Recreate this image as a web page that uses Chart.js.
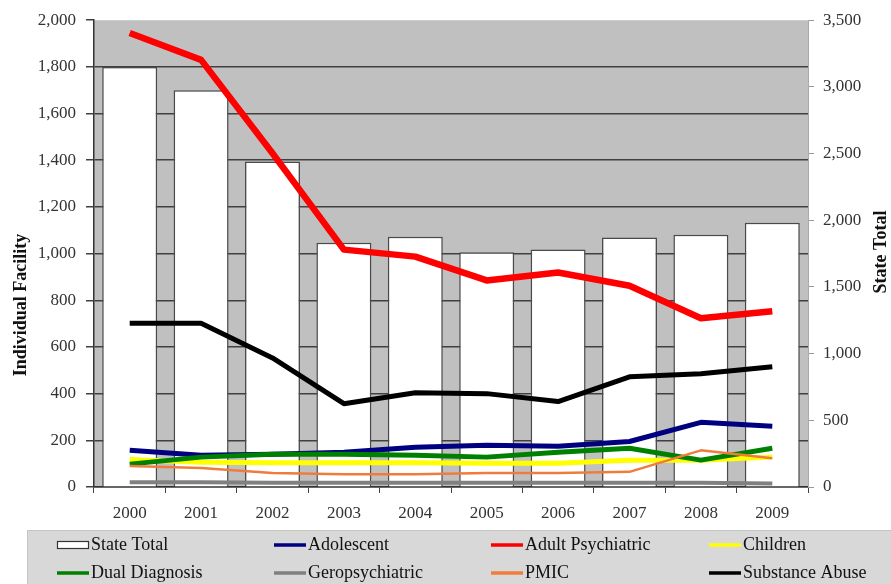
<!DOCTYPE html>
<html>
<head>
<meta charset="utf-8">
<script src="https://cdn.jsdelivr.net/npm/chart.js@4/dist/chart.umd.min.js"></script>
<style>
  html, body { margin: 0; padding: 0; background: #ffffff; }
  #wrap { width: 891px; height: 584px; }
</style>
</head>
<body>
<div id="wrap"><canvas id="c" width="891" height="584"></canvas></div>
<script>
// Admissions by facility type, 2000-2009
const years = ['2000', '2001', '2002', '2003', '2004', '2005', '2006', '2007', '2008', '2009'];

const stateTotal        = [3150, 2975, 2440, 1832, 1877, 1760, 1780, 1870, 1891, 1981];
const adolescent        = [157, 136, 140, 149, 170, 179, 175, 195, 277, 260];
const adultPsychiatric  = [1945, 1830, 1430, 1017, 987, 885, 919, 862, 723, 753];
const children          = [118, 106, 104, 104, 104, 102, 102, 115, 115, 128];
const dualDiagnosis     = [98, 128, 140, 140, 136, 128, 149, 166, 115, 166];
const geropsychiatric   = [20, 20, 18, 18, 18, 18, 18, 18, 18, 15];
const pmic              = [90, 81, 60, 55, 55, 60, 60, 65, 157, 123];
const substanceAbuse    = [702, 702, 553, 357, 404, 400, 366, 472, 485, 515];

const leftTicks  = { min: 0, max: 2000, step: 200 };
const rightTicks = { min: 0, max: 3500, step: 500 };

const SERIF = '"Liberation Serif", "DejaVu Serif", serif';
const fmt = v => Number(v).toLocaleString('en-US');

function lineSet(label, data, color, width, order) {
  return {
    type: 'line', label, data, yAxisID: 'y',
    borderColor: color, backgroundColor: color, borderWidth: width,
    pointRadius: 0, tension: 0, borderJoinStyle: 'round', borderCapStyle: 'butt',
    fill: false, order
  };
}

// Plot background, legend panel and rotated axis titles
const decor = {
  id: 'decor',
  beforeDraw(chart) {
    const { ctx, chartArea: a } = chart;
    ctx.save();
    ctx.fillStyle = '#ffffff';
    ctx.fillRect(0, 0, chart.width, chart.height);
    ctx.fillStyle = '#c0c0c0';
    ctx.fillRect(a.left, a.top, a.right - a.left, a.bottom - a.top);
    ctx.restore();
  },
  afterDraw(chart) {
    const { ctx } = chart;
    ctx.save();
    // axis titles
    ctx.fillStyle = '#111';
    ctx.font = 'bold 18px ' + SERIF;
    ctx.textAlign = 'center';
    ctx.textBaseline = 'middle';
    ctx.translate(21, 305);
    ctx.rotate(-Math.PI / 2);
    ctx.fillText('Individual Facility', 0, 0);
    ctx.setTransform(1, 0, 0, 1, 0, 0);
    ctx.translate(881, 252);
    ctx.rotate(-Math.PI / 2);
    ctx.fillText('State Total', 0, 0);
    ctx.setTransform(1, 0, 0, 1, 0, 0);

    // legend panel
    ctx.fillStyle = '#d8d8d8';
    ctx.fillRect(27, 530, chart.width - 27, chart.height - 530);
    ctx.strokeStyle = '#c4c4c4';
    ctx.lineWidth = 1;
    ctx.strokeRect(27.5, 530.5, chart.width - 27, chart.height - 530);

    const cols = [57, 274, 491, 709];
    const rows = [545, 573];
    ctx.font = '18px ' + SERIF;
    ctx.textAlign = 'left';
    ctx.textBaseline = 'middle';
    chart.data.datasets.forEach((ds, i) => {
      const x = cols[i % 4];
      const y = rows[Math.floor(i / 4)];
      if (ds.type === 'bar') {
        ctx.fillStyle = '#ffffff';
        ctx.fillRect(x, y - 4, 32, 8);
        ctx.strokeStyle = '#333';
        ctx.lineWidth = 1.2;
        ctx.strokeRect(x + 0.5, y - 3.5, 31, 7);
      } else {
        ctx.strokeStyle = ds.borderColor;
        ctx.lineWidth = 3.5;
        ctx.beginPath();
        ctx.moveTo(x, y);
        ctx.lineTo(x + 32, y);
        ctx.stroke();
      }
      ctx.fillStyle = '#111';
      ctx.fillText(ds.label, x + 34, y);
    });
    ctx.restore();
  }
};

new Chart(document.getElementById('c'), {
  data: {
    labels: years,
    datasets: [
      {
        type: 'bar', label: 'State Total', data: stateTotal, yAxisID: 'y2',
        backgroundColor: '#ffffff', borderColor: '#4a4a4a', borderWidth: 1.5,
        categoryPercentage: 1, barPercentage: 0.77, order: 20
      },
      lineSet('Adolescent', adolescent, '#000080', 5, 7),
      lineSet('Adult Psychiatric', adultPsychiatric, '#ff0000', 6.5, 6),
      lineSet('Children', children, '#ffff00', 5, 5),
      lineSet('Dual Diagnosis', dualDiagnosis, '#008000', 5, 4),
      lineSet('Geropsychiatric', geropsychiatric, '#808080', 4, 3),
      lineSet('PMIC', pmic, '#f07c3c', 2.5, 2),
      lineSet('Substance Abuse', substanceAbuse, '#000000', 5, 1)
    ]
  },
  options: {
    responsive: false,
    animation: false,
    layout: { padding: { top: 17, left: 0, right: 0, bottom: 0 } },
    plugins: { legend: { display: false }, tooltip: { enabled: false }, title: { display: false } },
    scales: {
      x: {
        type: 'category', offset: true,
        afterFit(s) { s.height = 97; },
        grid: { offset: true, drawOnChartArea: false, drawTicks: true, tickLength: 6, color: '#444', lineWidth: 1 },
        border: { color: '#333', width: 1.5 },
        ticks: { font: { family: SERIF, size: 17 }, color: '#333', padding: 10, maxRotation: 0 }
      },
      y: {
        position: 'left', min: leftTicks.min, max: leftTicks.max,
        afterFit(s) { s.width = 94; },
        grid: {
          drawTicks: true, tickLength: 8, lineWidth: 1.5, tickColor: '#404040',
          color: ctx => (ctx.tick && ctx.tick.value === leftTicks.max) ? 'rgba(0,0,0,0)' : '#404040'
        },
        border: { color: '#333', width: 1.5 },
        ticks: { stepSize: leftTicks.step, font: { family: SERIF, size: 17 }, color: '#333', padding: 10, callback: fmt }
      },
      y2: {
        position: 'right', min: rightTicks.min, max: rightTicks.max,
        afterFit(s) { s.width = 83; },
        grid: { drawOnChartArea: false, drawTicks: true, tickLength: 6, color: '#999', lineWidth: 1 },
        border: { color: '#aaa', width: 1 },
        ticks: { stepSize: rightTicks.step, font: { family: SERIF, size: 17 }, color: '#333', padding: 9, callback: fmt }
      }
    }
  },
  plugins: [decor]
});
</script>
</body>
</html>
